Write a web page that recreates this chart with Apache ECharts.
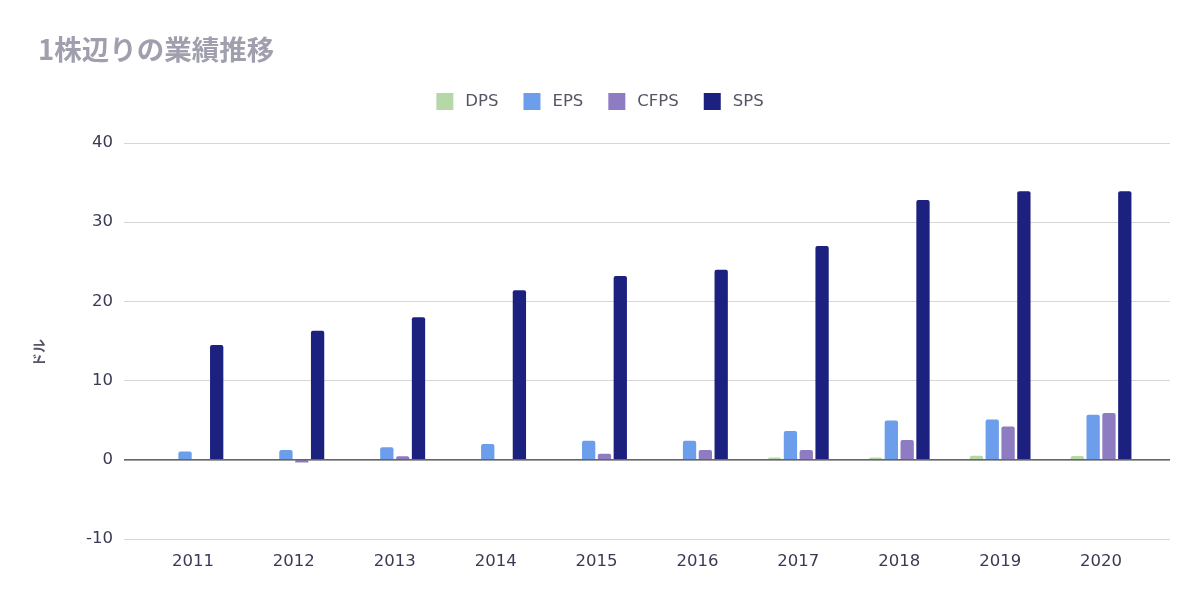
<!DOCTYPE html>
<html><head><meta charset="utf-8">
<script src="https://cdn.jsdelivr.net/npm/echarts@6/dist/echarts.min.js"></script>
<style>html,body{margin:0;padding:0;background:#fff}#c{width:1200px;height:602px}</style>
</head><body><div id="c"></div>
<script>
const title = '1株辺りの業績推移';
const yAxisName = 'ドル';
const years = ['2011','2012','2013','2014','2015','2016','2017','2018','2019','2020'];
const dps  = [0, 0, 0, 0, 0, 0, 0.3, 0.3, 0.5, 0.47];
const eps  = [1.05, 1.25, 1.6, 2.0, 2.4, 2.4, 3.65, 4.95, 5.1, 5.7];
const cfps = [0.05, -0.35, 0.45, 0.05, 0.75, 1.25, 1.25, 2.5, 4.2, 5.9];
const sps  = [14.5, 16.3, 18.0, 21.4, 23.2, 24.0, 27.0, 32.8, 33.9, 33.9];
const yMin = -10, yMax = 40, yStep = 10;

const font = '"DejaVu Sans", sans-serif';
const cjk = '"Noto Sans CJK JP", sans-serif';
const chart = echarts.init(document.getElementById('c'), null, {renderer:'canvas'});
const mk = (name, data, color) => ({
  name, type:'bar', data, xAxisIndex:1, yAxisIndex:1,
  barWidth:13.3, barGap:'19%',
  itemStyle:{color, borderRadius:[2,2,0,0]}
});
chart.setOption({
  animation:false,
  title:{text:title, left:33, top:31, textStyle:{fontFamily:cjk, fontSize:27.5, fontWeight:'bold', color:'#a09fae'}},
  legend:{top:88, left:'center', itemWidth:17, itemHeight:17, itemGap:25, icon:'rect',
    textStyle:{fontFamily:font, fontSize:16.5, color:'#555566', padding:[0,0,0,7]}, data:['DPS','EPS','CFPS','SPS']},
  grid:[
    {left:124, right:30, top:143, bottom:63},
    {left:142.5, right:48.5, top:143, bottom:63}
  ],
  xAxis:[
    {gridIndex:0, type:'value', min:0, max:1, show:true, axisLabel:{show:false}, axisTick:{show:false}, splitLine:{show:false},
      axisLine:{show:false}},
    {gridIndex:1, type:'category', data:years, axisTick:{show:false}, axisLine:{show:false},
      axisLabel:{fontFamily:font, fontSize:16.5, color:'#3a3a55', margin:14}}
  ],
  yAxis:[
    {gridIndex:0, type:'value', min:yMin, max:yMax, interval:yStep,
      name:yAxisName, nameLocation:'middle', nameGap:78, nameRotate:90,
      nameTextStyle:{fontFamily:cjk, fontSize:14, color:'#555566', fontWeight:'bold', padding:[0,0,0,-24]},
      axisLine:{show:false}, axisTick:{show:false},
      axisLabel:{fontFamily:font, fontSize:16.5, color:'#3a3a55', margin:11},
      splitLine:{lineStyle:{color:'#d6d6d6', width:1}}},
    {gridIndex:1, type:'value', min:yMin, max:yMax, interval:yStep, show:false, splitLine:{show:false}}
  ],
  series:[
    {type:'line', xAxisIndex:0, yAxisIndex:0, data:[[0,0],[1,0]], symbol:'none', silent:true,
      lineStyle:{color:'#666666', width:1.5}, z:5, legendHoverLink:false, tooltip:{show:false}},
    mk('DPS', dps, '#b6d7a8'),
    mk('EPS', eps, '#6d9eeb'),
    mk('CFPS', cfps, '#8e7cc3'),
    mk('SPS', sps, '#1c2180')
  ]
});
</script></body></html>
